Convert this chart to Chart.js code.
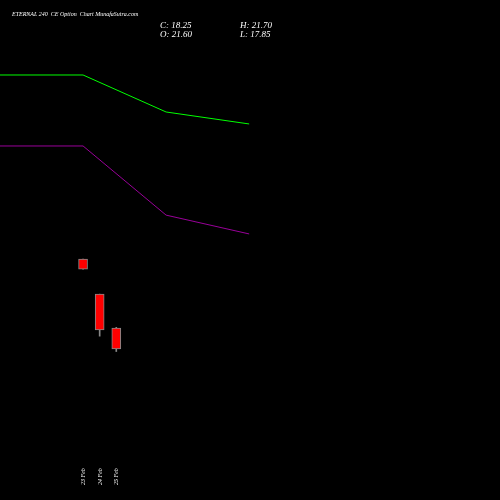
<!DOCTYPE html><html><head><script src="https://cdn.jsdelivr.net/npm/chart.js"></script>
<style>html,body{margin:0;background:#000}#w{width:500px;height:500px}</style></head><body><div id="w"><canvas id="c"></canvas></div><script>
const dates=["23 Feb","24 Feb","25 Feb"];
const candleX=[5,6,7];
const opens=[32.6,27.0,21.6];
const closes=[31.0,21.3,18.25];
const highs=[32.6,27.0,21.7];
const lows=[31.0,20.3,17.85];
const lineX=[0,5,10,15];
const upper=[61.95,61.95,56.05,54.14];
const lower=[50.63,50.63,39.6,36.6];
const pt=(xs,ys)=>xs.map((x,i)=>({x,y:ys[i]}));
const textPlugin={id:'t',afterDraw(ch){const c=ch.ctx,x=ch.scales.x;c.save();c.fillStyle='#fff';
c.font='italic 6px "Liberation Serif"';c.fillText('ETERNAL 240  CE Option  Chart MunafaSutra.com',12,16);
c.font='italic 9px "Liberation Serif"';c.fillText('C: 18.25',160,28);c.fillText('O: 21.60',160,37);c.fillText('H: 21.70',240,28);c.fillText('L: 17.85',240,37);
c.font='italic 6px "Liberation Serif"';dates.forEach((d,i)=>{c.save();c.translate(x.getPixelForValue(candleX[i])+2,485);c.rotate(-Math.PI/2);c.fillText(d,0,0);c.restore();});
c.restore();}};
new Chart(document.getElementById('c'),{type:'bar',data:{datasets:[
{type:'line',data:pt(lineX,upper),borderColor:'#00ff00',borderWidth:1,pointRadius:0,order:0},
{type:'line',data:pt(lineX,lower),borderColor:'#990099',borderWidth:1,pointRadius:0,order:0},
{data:candleX.map((x,i)=>({x,y:[lows[i],highs[i]]})),backgroundColor:'#888',barThickness:1,grouped:false,order:2},
{data:candleX.map((x,i)=>({x,y:[opens[i],closes[i]]})),backgroundColor:'#ff0000',borderColor:'#888',borderWidth:1,borderSkipped:false,barThickness:9,grouped:false,order:1}
]},options:{animation:false,responsive:true,maintainAspectRatio:false,layout:{padding:0},
plugins:{legend:{display:false},tooltip:{enabled:false}},
scales:{x:{type:'linear',offset:false,min:0,max:30.1,display:false},y:{min:-5.83,max:73.91,display:false}}},plugins:[textPlugin]});
</script></body></html>
